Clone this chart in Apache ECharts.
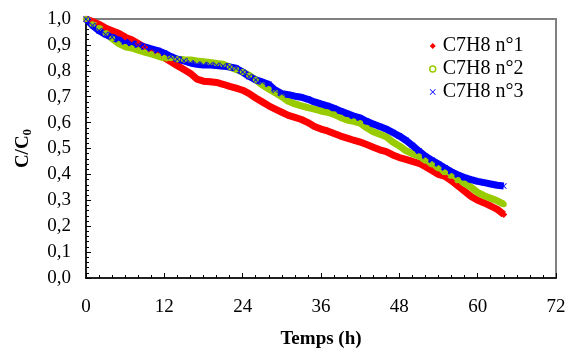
<!DOCTYPE html>
<html>
<head>
<meta charset="utf-8">
<script src="https://cdn.jsdelivr.net/npm/echarts@6/dist/echarts.min.js"></script>
<style>
  html, body { margin: 0; padding: 0; background: #fff; }
  #chart { width: 572px; height: 354px; }
</style>
</head>
<body>
<div id="chart"></div>
<script>
// temps (h), une mesure par heure
const hours = [
  0, 1, 2, 3, 4, 5, 6, 7, 8, 9, 10, 11, 12, 13, 14, 15, 16, 17, 18, 19, 20,
  21, 22, 23, 24, 25, 26, 27, 28, 29, 30, 31, 32, 33, 34, 35, 36, 37, 38, 39, 40,
  41, 42, 43, 44, 45, 46, 47, 48, 49, 50, 51, 52, 53, 54, 55, 56, 57, 58, 59, 60,
  61, 62, 63, 64
];

// C/C0
const essai1 = [
  1.0, 0.99, 0.98, 0.965, 0.955, 0.945, 0.93, 0.92, 0.905, 0.89, 0.875,
  0.862, 0.85, 0.835, 0.82, 0.805, 0.79, 0.768, 0.76, 0.758, 0.755,
  0.748, 0.74, 0.733, 0.725, 0.712, 0.695, 0.68, 0.665, 0.652, 0.64,
  0.628, 0.62, 0.612, 0.6, 0.585, 0.575, 0.568, 0.558, 0.548, 0.54,
  0.532, 0.525, 0.515, 0.505, 0.495, 0.488, 0.475, 0.465, 0.458, 0.45,
  0.443, 0.43, 0.415, 0.4, 0.392, 0.375, 0.355, 0.335, 0.315, 0.3,
  0.29, 0.278, 0.265, 0.245
];
const essai2 = [
  1.0, 0.98, 0.965, 0.945, 0.925, 0.905, 0.893, 0.888, 0.88, 0.872, 0.865,
  0.857, 0.85, 0.848, 0.845, 0.843, 0.842, 0.838, 0.835, 0.832, 0.828,
  0.825, 0.815, 0.805, 0.795, 0.782, 0.765, 0.745, 0.73, 0.715, 0.7,
  0.682, 0.672, 0.665, 0.658, 0.652, 0.645, 0.64, 0.632, 0.62, 0.61,
  0.605, 0.598, 0.58, 0.565, 0.555, 0.545, 0.525, 0.51, 0.492, 0.48,
  0.47, 0.455, 0.44, 0.425, 0.408, 0.395, 0.378, 0.365, 0.35, 0.33,
  0.318, 0.308, 0.298, 0.285
];
const essai3 = [
  1.0, 0.975, 0.955, 0.94, 0.93, 0.92, 0.912, 0.906, 0.9, 0.892, 0.885,
  0.878, 0.868, 0.855, 0.845, 0.838, 0.83, 0.825, 0.822, 0.822, 0.82,
  0.818, 0.815, 0.81, 0.795, 0.778, 0.765, 0.757, 0.748, 0.725, 0.712,
  0.708, 0.702, 0.698, 0.69, 0.68, 0.672, 0.665, 0.655, 0.645, 0.635,
  0.625, 0.618, 0.605, 0.595, 0.585, 0.575, 0.562, 0.548, 0.532, 0.512,
  0.49, 0.47, 0.455, 0.44, 0.425, 0.41, 0.398, 0.388, 0.38, 0.373,
  0.368, 0.363, 0.358, 0.355
];

const seriesNames = ["C7H8 n°1", "C7H8 n°2", "C7H8 n°3"];
const xTicks = [0, 12, 24, 36, 48, 60, 72];

const font = "'Liberation Serif', 'Times New Roman', serif";
const crossPath = "path://M0,1L1,0L5,4L9,0L10,1L6,5L10,9L9,10L5,6L1,10L0,9L4,5Z";

const toPairs = (vals) => hours.map((h, i) => [h, vals[i]]);

const mkSeries = (name, vals, color, symbol, size) => ({
  name: name,
  type: "line",
  data: toPairs(vals),
  symbol: symbol,
  symbolSize: size,
  showSymbol: true,
  lineStyle: { color: color, width: 7 },
  itemStyle: { color: color },
  emphasis: { disabled: true },
  animation: false,
});

const chart = echarts.init(document.getElementById("chart"));
chart.setOption({
  animation: false,
  grid: {
    left: 86,
    right: 16,
    top: 19,
    bottom: 76,
    show: true,
    borderColor: "#808080",
    borderWidth: 2,
    backgroundColor: "transparent",
  },
  legend: {
    orient: "vertical",
    left: 424,
    top: 31,
    itemWidth: 6,
    itemHeight: 6,
    itemGap: 3,
    textStyle: { fontFamily: font, fontSize: 20, color: "#000", padding: [0, 0, 0, 2] },
    data: [
      { name: seriesNames[0], icon: "diamond", itemStyle: { color: "#ff0000" } },
      { name: seriesNames[1], icon: "circle", itemStyle: { color: "#ffffff", borderColor: "#99cc00", borderWidth: 1.5 } },
      { name: seriesNames[2], icon: crossPath, itemStyle: { color: "#0000ff" } },
    ],
  },
  xAxis: {
    type: "value",
    min: 0,
    max: 72,
    interval: 12,
    name: "Temps (h)",
    nameLocation: "middle",
    nameGap: 52,
    nameTextStyle: { fontFamily: font, fontSize: 19, fontWeight: "bold", color: "#000" },
    axisLine: { onZero: false, lineStyle: { color: "#000", width: 1.5 } },
    axisTick: { inside: true, length: 5, lineStyle: { color: "#000" } },
    minorTick: { show: true, splitNumber: 6, length: 3, lineStyle: { color: "#000" } },
    splitLine: { show: false },
    axisLabel: {
      margin: 20,
      fontFamily: font,
      fontSize: 19,
      color: "#000",
      formatter: (v) => (xTicks.includes(v) ? String(v) : ""),
    },
  },
  yAxis: {
    type: "value",
    min: 0,
    max: 1,
    interval: 0.1,
    name: "{a|C/C}{b|0}",
    nameLocation: "middle",
    nameGap: 52,
    nameRotate: 90,
    nameTextStyle: {
      rich: {
        a: { fontFamily: font, fontSize: 19, fontWeight: "bold", color: "#000" },
        b: { fontFamily: font, fontSize: 13, fontWeight: "bold", color: "#000", padding: [9, 0, 0, 0] },
      },
    },
    axisLine: { onZero: false, lineStyle: { color: "#000", width: 1.5 } },
    axisTick: { inside: true, length: 5, lineStyle: { color: "#000" } },
    minorTick: { show: true, splitNumber: 5, length: 3, lineStyle: { color: "#000" } },
    splitLine: { show: false },
    axisLabel: {
      margin: 15,
      fontFamily: font,
      fontSize: 19,
      color: "#000",
      formatter: (v) => v.toFixed(1).replace(".", ","),
    },
  },
  series: [
    mkSeries(seriesNames[0], essai1, "#ff0000", "diamond", 7),
    mkSeries(seriesNames[1], essai2, "#99cc00", "circle", 6),
    mkSeries(seriesNames[2], essai3, "#0000ff", crossPath, 6),
  ],
});
</script>
</body>
</html>
